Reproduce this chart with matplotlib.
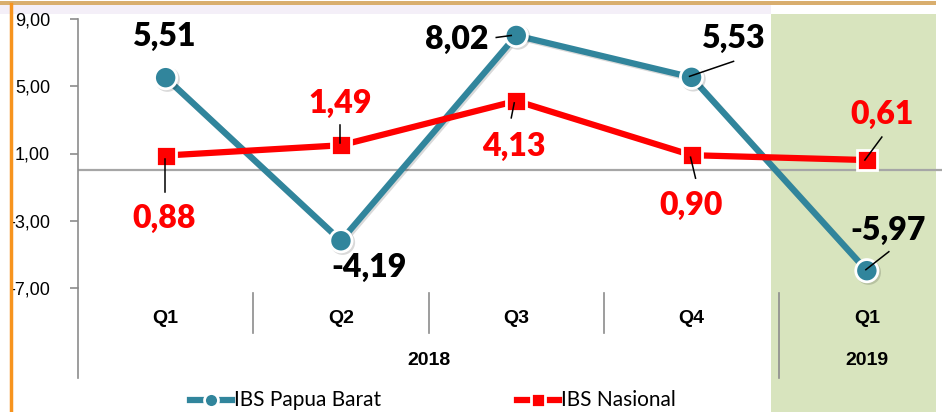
import matplotlib
matplotlib.use("Agg")
import matplotlib.pyplot as plt
import matplotlib.patheffects as pe
import matplotlib.transforms as mtransforms
from matplotlib.lines import Line2D
from matplotlib.patches import Rectangle

quarters = ["Q1", "Q2", "Q3", "Q4", "Q1"]
years = ["2018", "2019"]
papua = [5.51, -4.19, 8.02, 5.53, -5.97]
nasional = [0.88, 1.49, 4.13, 0.90, 0.61]
yticks = [9, 5, 1, -3, -7]

teal = "#31859C"
red = "#FF0000"
gray = "#8C8C8C"
axis_font = ["Liberation Sans Narrow", "Liberation Sans"]

W, H = 942, 412
fig = plt.figure(figsize=(W / 100, H / 100), dpi=100)
fig.patch.set_facecolor("white")

def fx(px):
    return px / W

def fy(py):
    return 1 - py / H

# background decoration: green band for 2019, borders
fig.add_artist(Rectangle((fx(771), 0), fx(936) - fx(771), fy(14), transform=fig.transFigure,
                         facecolor="#D8E4BE", edgecolor="none", zorder=0))
fig.add_artist(Rectangle((0, fy(14)), fx(771), fy(5) - fy(14), transform=fig.transFigure,
                         facecolor="#F4EFF8", edgecolor="none", zorder=0))
fig.add_artist(Rectangle((0, fy(5)), fx(936), fy(1) - fy(5), transform=fig.transFigure,
                         facecolor="#D9AE6E", edgecolor="none", zorder=0))
fig.add_artist(Line2D([fx(11), fx(11)], [0, fy(4)], transform=fig.transFigure,
                      color="#F7941E", lw=2.5, zorder=1))

ax = fig.add_axes([fx(78), fy(288), (954.5 - 78) / W, fy(19) - fy(288)])
ax.set_facecolor("none")
x = list(range(len(quarters)))
ax.set_xlim(-0.5, 4.5)
ax.set_ylim(-7, 9)

for s in ["top", "right", "bottom"]:
    ax.spines[s].set_visible(False)
ax.spines["left"].set_color(gray)
ax.spines["left"].set_linewidth(1.2)
ax.set_xticks([])
ax.set_yticks(yticks)
ax.set_yticklabels([f"{v:.2f}".replace(".", ",") for v in yticks],
                   family=axis_font, fontsize=13)
ax.tick_params(axis="y", length=6, color=gray, width=1.2, pad=14)

ax.axhline(0, color="#A6A6A6", lw=1.6, zorder=1)

# category axis area below the plot
trans = mtransforms.blended_transform_factory(ax.transData, ax.transAxes)
ax.plot([0, 0], [0, -0.335], transform=ax.transAxes, color=gray, lw=1.2, clip_on=False)
for xs in [0.5, 1.5, 2.5]:
    ax.plot([xs, xs], [-0.019, -0.167], transform=trans, color=gray, lw=1.2, clip_on=False)
ax.plot([3.5, 3.5], [-0.019, -0.335], transform=trans, color=gray, lw=1.2, clip_on=False)
for i, q in enumerate(quarters):
    ax.text(i, -0.112, q, transform=trans, ha="center", va="center", fontsize=14,
            fontweight="bold", family=axis_font)
ax.text(1.5, -0.268, years[0], transform=trans, ha="center", va="center", fontsize=14,
        fontweight="bold", family=axis_font)
ax.text(4, -0.268, years[1], transform=trans, ha="center", va="center", fontsize=14,
        fontweight="bold", family=axis_font)

shadow = [pe.SimpleLineShadow(offset=(1.2, -1.2), alpha=0.15), pe.Normal()]
ax.plot(x, papua, color=teal, lw=4.5, marker="o", markersize=16, markerfacecolor=teal,
        markeredgecolor="white", markeredgewidth=2, zorder=4, path_effects=shadow)
ax.plot(x, nasional, color=red, lw=4.5, marker="s", markersize=15, markerfacecolor=red,
        markeredgecolor="white", markeredgewidth=2, zorder=5)

# label offsets in pixels (dx, dy) and leader line offsets
papua_lab = [(-2, 41, None), (28, -27, None), (-59, -4, ((-20, -2), (-5, 0))),
             (41, 39, ((42, 16), (-2, 1))), (21, 40, ((22, 19), (-1, 1)))]
nas_lab = [(-2, -63, ((-1, -3), (-1, -36))), (-1, 42, ((-1, 20), (-1, 2))),
           (-2, -46, ((-2, -2), (-5, -17))), (0, -50, ((-1, -2), (4, -23))),
           (15, 46, ((15, 23), (-2, 0)))]

def label(vals, layout, color):
    for i, (v, (dx, dy, lead)) in enumerate(zip(vals, layout)):
        ax.annotate(f"{v:.2f}".replace(".", ","), (i, v), xytext=(dx, dy),
                    textcoords="offset pixels", ha="center", va="center",
                    fontsize=23, fontweight="heavy", family="Lato", color=color,
                    annotation_clip=False, zorder=6)
        if lead:
            (x0, y0), (x1, y1) = lead
            p = ax.transData.transform((i, v))
            ax.add_line(Line2D([p[0] + x0, p[0] + x1], [p[1] + y0, p[1] + y1],
                               transform=None, color="black", lw=1.1, zorder=7))

label(papua, papua_lab, "black")
label(nasional, nas_lab, red)

# legend
ly = fy(400)
fig.add_artist(Line2D([fx(190), fx(211), fx(232)], [ly] * 3, transform=fig.transFigure,
                      color=teal, lw=4.5, marker="o", markersize=10, markevery=[1],
                      markerfacecolor=teal, markeredgecolor="white", markeredgewidth=2))
fig.text(fx(234), ly, "IBS Papua Barat", ha="left", va="center", fontsize=15, family="Lato")
fig.add_artist(Line2D([fx(517), fx(538), fx(559)], [ly] * 3, transform=fig.transFigure,
                      color=red, lw=4.5, marker="s", markersize=10, markevery=[1],
                      markerfacecolor=red, markeredgecolor="white", markeredgewidth=2))
fig.text(fx(561), ly, "IBS Nasional", ha="left", va="center", fontsize=15, family="Lato")

fig.savefig("out.png", dpi=100)
